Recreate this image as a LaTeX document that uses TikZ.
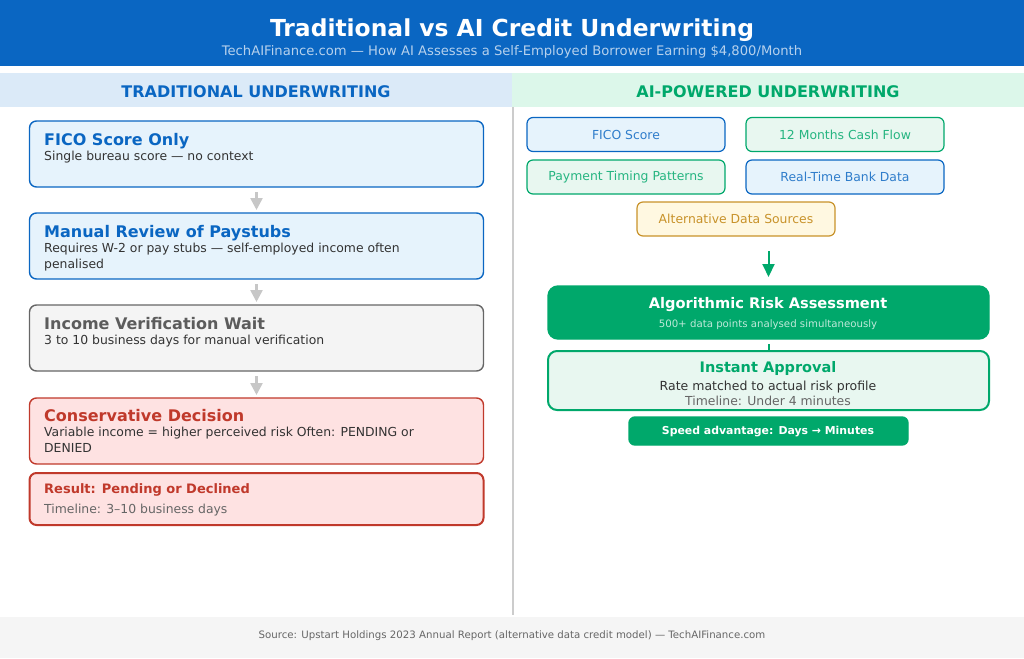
\documentclass[tikz,border=0pt]{standalone}
\usepackage{fontspec}
\setmainfont{DejaVu Sans}
\usepackage{xcolor}
\usetikzlibrary{calc, arrows.meta, positioning}
\definecolor{headblue}{HTML}{0A66C2}
\definecolor{bandblue}{HTML}{DBEAF8}
\definecolor{bandgreen}{HTML}{DCF7EA}
\definecolor{iceblue}{HTML}{E6F3FC}
\definecolor{icegreen}{HTML}{E8F7F0}
\definecolor{aigreen}{HTML}{00A86B}
\definecolor{palered}{HTML}{FEE2E2}
\definecolor{riskred}{HTML}{C0392B}
\definecolor{palegrey}{HTML}{F4F4F4}
\definecolor{midgrey}{HTML}{666666}
\definecolor{paleyellow}{HTML}{FFF8E1}
\definecolor{darkyellow}{HTML}{C8922A}
\definecolor{inktext}{HTML}{333333}
\tikzset{
  flowbox/.style={draw, rounded corners=7, line width=1.4, inner sep=0, outer sep=0, minimum width=454, minimum height=66},
  chipbox/.style={draw, rounded corners=6, line width=1.2, inner sep=0, outer sep=0, minimum width=198, minimum height=34, font=\fontsize{12.4}{15}\selectfont},
  boxtitle/.style={anchor=base west, inner sep=0, font=\fontsize{16}{18}\selectfont\bfseries},
  boxtext/.style={anchor=north west, inner sep=0, align=left, text=inktext, font=\fontsize{12.4}{16}\selectfont},
  midtext/.style={anchor=base, inner sep=0},
  greyarrow/.style={-{Triangle[length=12pt,width=12pt]}, line width=2.5, draw=black!22},
  greenarrow/.style={-{Triangle[length=13pt,width=12pt]}, line width=2, draw=aigreen},
}
\begin{document}
\begin{tikzpicture}[x=1pt, y=-1pt]
  \useasboundingbox (0,0) rectangle (1024,658);
  % Header
  \fill[headblue] (0,0) rectangle (1024,66.5);
  \node[midtext, text=white, font=\fontsize{23.4}{26}\selectfont\bfseries] (maintitle) at (512,37) {Traditional vs AI Credit Underwriting};
  \node[midtext, text=white!70!headblue, font=\fontsize{13.15}{15}\selectfont] (subtitle) at (512,55.5) {TechAIFinance.com — How AI Assesses a Self-Employed Borrower Earning \$4,800/Month};

  % Column bands
  \fill[bandblue] (0,73) rectangle (512,107);
  \fill[bandgreen] (512,73) rectangle (1024,107);
  \node[midtext, text=headblue, font=\fontsize{16}{18}\selectfont\bfseries] (lefthead) at (256,97.5) {TRADITIONAL UNDERWRITING};
  \node[midtext, text=aigreen, font=\fontsize{16}{18}\selectfont\bfseries] (righthead) at (768,97.5) {AI-POWERED UNDERWRITING};
  \draw[black!20, line width=1.5] (513,107) -- (513,615);

  % Left column
  \node[flowbox, draw=headblue, fill=iceblue] (fico) at (256.5,154) {};
  \node[flowbox, draw=headblue, fill=iceblue] (paystubs) at (256.5,246) {};
  \node[flowbox, draw=midgrey, fill=palegrey] (verify) at (256.5,338) {};
  \node[flowbox, draw=riskred, fill=palered] (decision) at (256.5,431) {};
  \node[flowbox, draw=riskred, fill=palered, line width=2, minimum height=52] (result) at (256.5,499) {};

  \draw[greyarrow] ([yshift=-5]fico.south) -- ([yshift=3]paystubs.north);
  \draw[greyarrow] ([yshift=-5]paystubs.south) -- ([yshift=3]verify.north);
  \draw[greyarrow] ([yshift=-5]verify.south) -- ([yshift=3]decision.north);

  \node[boxtitle, text=headblue] (ficotitle) at (44,145) {FICO Score Only};
  \node[boxtext] (ficotext) at (44,151) {Single bureau score — no context};
  \node[boxtitle, text=headblue] (paytitle) at (44,237) {Manual Review of Paystubs};
  \node[boxtext] (paytext) at (44,243) {Requires W-2 or pay stubs — self-employed income often\\penalised};
  \node[boxtitle, text=midgrey!90!black] (verifytitle) at (44,329) {Income Verification Wait};
  \node[boxtext] (verifytext) at (44,335) {3 to 10 business days for manual verification};
  \node[boxtitle, text=riskred] (decisiontitle) at (44,421) {Conservative Decision};
  \node[boxtext] (decisiontext) at (44,427) {Variable income = higher perceived risk Often: PENDING or\\DENIED};
  \node[boxtitle, text=riskred, font=\fontsize{13}{15}\selectfont\bfseries] (resulttitle) at (44,493) {Result: Pending or Declined};
  \node[boxtitle, text=midgrey, font=\fontsize{12.4}{15}\selectfont] (resulttext) at (44,513) {Timeline: 3–10 business days};

  % Right column
  \node[chipbox, draw=headblue, fill=iceblue, text=headblue!85!white] (chipfico) at (626,134.5) {FICO Score};
  \node[chipbox, draw=aigreen, fill=icegreen, text=aigreen!85!white] (chipcash) at (845,134.5) {12 Months Cash Flow};
  \node[chipbox, draw=aigreen, fill=icegreen, text=aigreen!85!white] (chiptiming) at (626,177) {Payment Timing Patterns};
  \node[chipbox, draw=headblue, fill=iceblue, text=headblue!85!white] (chipbank) at (845,177) {Real-Time Bank Data};
  \node[chipbox, draw=darkyellow, fill=paleyellow, text=darkyellow] (chipalt) at (736,219) {Alternative Data Sources};

  \node[flowbox, draw=aigreen, fill=aigreen, rounded corners=10, minimum width=441, minimum height=53] (risk) at (768.5,312.5) {};
  \coordinate (feed) at (768.5,251);
  \draw[greenarrow] (feed) -- ([yshift=9]risk.north);
  \draw[aigreen, line width=2] ([yshift=-5]risk.south) -- (768.5,351);
  \node[flowbox, draw=aigreen, fill=icegreen, line width=2, rounded corners=9, minimum width=441, minimum height=59] (approval) at (768.5,380.5) {};
  \node[flowbox, draw=aigreen, fill=aigreen, rounded corners=6, minimum width=279, minimum height=28] (speed) at (768.5,431) {};

  \node[midtext, text=white, font=\fontsize{14.6}{16}\selectfont\bfseries] (risktitle) at (768,308) {Algorithmic Risk Assessment};
  \node[midtext, text=white!75!aigreen, font=\fontsize{10.2}{12}\selectfont] (risktext) at (768,327) {500+ data points analysed simultaneously};
  \node[midtext, text=aigreen, font=\fontsize{14.5}{16}\selectfont\bfseries] (approvaltitle) at (768,372) {Instant Approval};
  \node[midtext, text=inktext, font=\fontsize{12.5}{14}\selectfont] (approvaltext) at (768,390.5) {Rate matched to actual risk profile};
  \node[midtext, text=midgrey, font=\fontsize{12.4}{14}\selectfont] (approvaltime) at (768,405) {Timeline: Under 4 minutes};
  \node[midtext, text=white, font=\fontsize{10.9}{13}\selectfont\bfseries] (speedtext) at (768,434) {Speed advantage: Days → Minutes};

  % Footer
  \fill[black!4] (0,617) rectangle (1024,658);
  \node[midtext, text=midgrey, font=\fontsize{10.2}{12}\selectfont] (source) at (512,638) {Source: Upstart Holdings 2023 Annual Report (alternative data credit model) — TechAIFinance.com};
\end{tikzpicture}
\end{document}
